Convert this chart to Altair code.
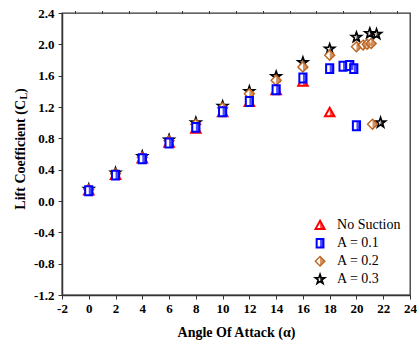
import altair as alt
import pandas as pd

# ---- data ----
ns_aoa = [0, 2, 4, 6, 8, 10, 12, 14, 16, 18]
ns_cl = [0.13, 0.33, 0.54, 0.74, 0.92, 1.13, 1.26, 1.41, 1.52, 1.13]

a1_aoa = [0, 2, 4, 6, 8, 10, 12, 14, 16, 18, 19, 19.5, 19.8, 20]
a1_cl = [0.13, 0.33, 0.54, 0.74, 0.94, 1.14, 1.27, 1.42, 1.57, 1.69, 1.72, 1.73, 1.69, 0.96]

a2_aoa = [0, 2, 4, 6, 8, 10, 12, 14, 16, 18, 20, 20.5, 20.8, 21.1, 21.2]
a2_cl = [0.15, 0.35, 0.56, 0.77, 0.98, 1.19, 1.37, 1.54, 1.71, 1.86, 1.97, 1.99, 2.00, 2.01, 0.98]

a3_aoa = [0, 2, 4, 6, 8, 10, 12, 14, 16, 18, 20, 21.0, 21.5, 21.8]
a3_cl = [0.15, 0.36, 0.57, 0.78, 1.00, 1.21, 1.40, 1.59, 1.77, 1.94, 2.09, 2.14, 2.13, 1.00]

series_names = ["No Suction", "A = 0.1", "A = 0.2", "A = 0.3"]
legend_aoa = [17.28, 17.28, 17.28, 17.28]
legend_text_aoa = [18.55, 18.55, 18.55, 18.55]
legend_cl = [-0.31, -0.54, -0.77, -1.00]

x_ticks = list(range(-2, 25, 2))
x_minor = list(range(-1, 24, 2))
y_ticks = [-1.2, -0.8, -0.4, 0.0, 0.4, 0.8, 1.2, 1.6, 2.0, 2.4]

# ---- marker shapes ----
TRI = "M0,-1L1,0.8L-1,0.8Z"
TRI_H = "M0,-1L1,0.8L0,0.8Z"
SQ = "M-0.8,-1L0.8,-1L0.8,1L-0.8,1Z"
SQ_H = "M0,-1L0.8,-1L0.8,1L0,1Z"
DIA = "M0,-1L1,0L0,1L-1,0Z"
DIA_H = "M0,-1L1,0L0,1Z"
STAR = ("M0,-1L0.235,-0.324L0.951,-0.309L0.380,0.124L0.588,0.809L0,0.4"
        "L-0.588,0.809L-0.380,0.124L-0.951,-0.309L-0.235,-0.324Z")
STAR_H = "M0,-1L0.235,-0.324L0.951,-0.309L0.380,0.124L0.588,0.809L0,0.4Z"

RED = "#FF0000"
BLUE = "#0000FF"
BROWN = "#BF6420"
BLACK = "#000000"

FONT = "Liberation Serif"

xscale = alt.Scale(domain=[-2, 24], nice=False, zero=False)
yscale = alt.Scale(domain=[-1.2, 2.4], nice=False, zero=False)

x_axis_main = alt.Axis(values=x_ticks, grid=False, title="Angle Of Attack (α)",
                       labelExpr="replace(format(datum.value, 'd'), '\u2212', '-')",
                       labelFont=FONT, labelFontWeight="bold", labelFontSize=13, labelColor="black",
                       labelPadding=3, tickSize=4, tickColor="#333", tickWidth=1,
                       domainColor="#333", domainWidth=1.5,
                       titleFont=FONT, titleFontWeight="bold", titleFontSize=14, titleColor="black",
                       titlePadding=10, labelFlush=False, labelOverlap=False)
x_axis_minor = alt.Axis(values=x_minor, labels=False, grid=False, title=None, domain=False,
                        tickSize=2.5, tickColor="#333", tickWidth=1)
y_axis_main = alt.Axis(values=y_ticks, grid=False, title=None,
                       labelExpr="replace(format(datum.value, '.1f'), '\u2212', '-')",
                       labelFont=FONT, labelFontWeight="bold", labelFontSize=13, labelColor="black",
                       labelPadding=4, tickSize=4, tickColor="#333", tickWidth=1,
                       domainColor="#333", domainWidth=1.5, labelFlush=False, labelOverlap=False)


def df(a, c):
    return pd.DataFrame({"aoa": a, "cl": c})


def pts(data, path, color, size, fill, sw=1.3, xaxis=None, yaxis=None, opacity=1.0):
    return alt.Chart(data).mark_point(
        shape=path, filled=True, fill=fill, stroke=color, strokeWidth=sw,
        size=size, opacity=opacity
    ).encode(
        x=alt.X("aoa:Q", scale=xscale, axis=xaxis),
        y=alt.Y("cl:Q", scale=yscale, axis=yaxis),
    )


def half(data, path, color, size):
    return alt.Chart(data).mark_point(
        shape=path, filled=True, fill=color, strokeWidth=0, size=size
    ).encode(
        x=alt.X("aoa:Q", scale=xscale, axis=None),
        y=alt.Y("cl:Q", scale=yscale, axis=None),
    )


ns = df(ns_aoa, ns_cl)
a1 = df(a1_aoa, a1_cl)
a2 = df(a2_aoa, a2_cl)
a3 = df(a3_aoa, a3_cl)

leg = pd.DataFrame({"aoa": legend_aoa, "cl": legend_cl, "label": series_names,
                    "taoa": legend_text_aoa})

axis_carrier = pts(ns, TRI, RED, 1, "white", xaxis=x_axis_main, yaxis=y_axis_main, opacity=0)
minor_carrier = pts(ns, TRI, RED, 1, "white", xaxis=x_axis_minor, yaxis=None, opacity=0)

layers = [axis_carrier, minor_carrier]
specs = [
    (a3, STAR, STAR_H, BLACK, 115, 1.6, 3),
    (a2, DIA, DIA_H, BROWN, 100, 1.4, 2),
    (ns, TRI, TRI_H, RED, 90, 2.0, 0),
    (a1, SQ, SQ_H, BLUE, 80, 2.0, 1),
]
for d, full, hp, col, sz, sw, i in specs:
    layers.append(pts(d, full, col, sz, "white", sw=sw))
    layers.append(half(d, hp, col, sz))
    ld = leg.iloc[[i]]
    layers.append(pts(ld, full, col, sz * 0.9, "white", sw=sw))
    layers.append(half(ld, hp, col, sz * 0.9))

legend_text = alt.Chart(leg).mark_text(
    align="left", baseline="middle", font=FONT, fontSize=14, color="black"
).encode(
    x=alt.X("taoa:Q", scale=xscale, axis=None),
    y=alt.Y("cl:Q", scale=yscale, axis=None),
    text="label:N",
)
layers.append(legend_text)

# y title with subscript L
ytitle_main = alt.Chart(pd.DataFrame({"t": ["Lift Coefficient (C"]})).mark_text(
    angle=270, align="right", baseline="middle", font=FONT, fontWeight="bold",
    fontSize=14, color="black"
).encode(x=alt.value(-41), y=alt.value(87), text="t:N")
ytitle_sub = alt.Chart(pd.DataFrame({"t": ["L"]})).mark_text(
    angle=270, align="left", baseline="middle", font=FONT, fontWeight="bold",
    fontSize=10, color="black"
).encode(x=alt.value(-38), y=alt.value(86.5), text="t:N")
ytitle_par = alt.Chart(pd.DataFrame({"t": [")"]})).mark_text(
    angle=270, align="left", baseline="middle", font=FONT, fontWeight="bold",
    fontSize=14, color="black"
).encode(x=alt.value(-41), y=alt.value(80), text="t:N")
layers += [ytitle_main, ytitle_sub, ytitle_par]

chart = alt.layer(*layers).resolve_axis(x="independent", y="independent").properties(
    width=348, height=282,
    autosize=alt.AutoSizeParams(type="none"),
    padding={"left": 62, "top": 13, "right": 7, "bottom": 52},
    background="white",
).configure_view(stroke="#333", strokeWidth=1.3)

chart.save("out.html", embed_options={"renderer": "svg", "actions": False})
